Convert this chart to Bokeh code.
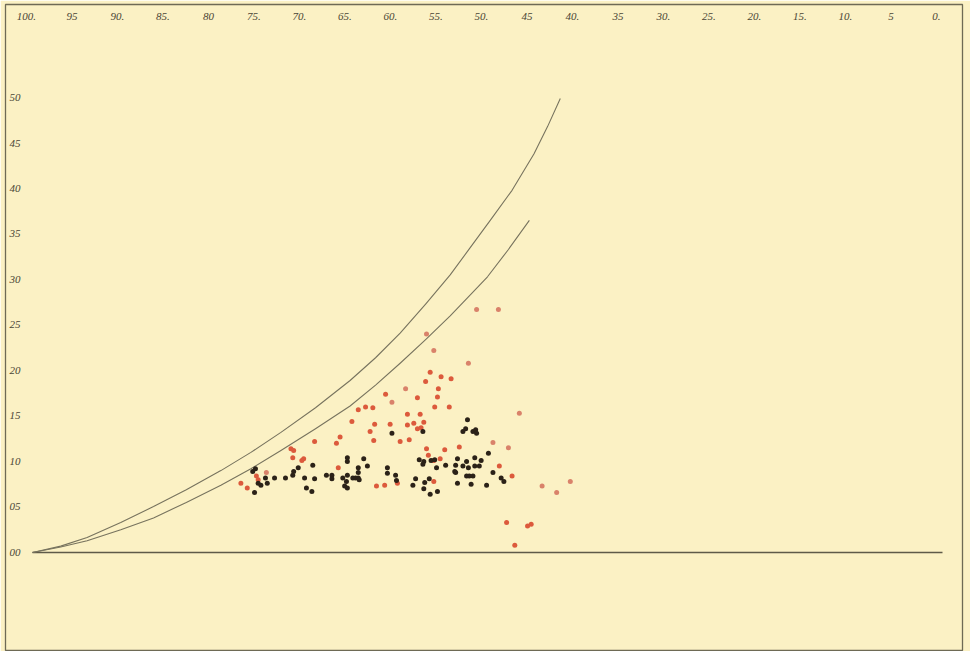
from bokeh.plotting import figure
from bokeh.models import Range1d, ColumnDataSource
from bokeh.core.properties import value
from bokeh.embed import file_html
from bokeh.resources import INLINE

# ---- data ----
x_ticks = [100, 95, 90, 85, 80, 75, 70, 65, 60, 55, 50, 45, 40, 35, 30, 25, 20, 15, 10, 5, 0]
x_tick_labels = ["100.", "95", "90.", "85.", "80", "75.", "70.", "65.", "60.", "55.", "50.",
                 "45", "40.", "35", "30.", "25.", "20.", "15.", "10.", "5", "0."]
y_ticks = [0.50, 0.45, 0.40, 0.35, 0.30, 0.25, 0.20, 0.15, 0.10, 0.05, 0.00]
y_tick_labels = ["50", "45", "40", "35", "30", "25", "20", "15", "10", "05", "00"]

outer_x = [100, 96.9, 94.0, 90.3, 86.7, 83.1, 79.3, 76.0, 72.7, 68.9, 65.1, 62.3, 59.6,
           56.8, 54.1, 51.9, 49.7, 47.3, 44.9, 43.4, 42.0]
outer_y = [0.0, 0.007, 0.0165, 0.033, 0.0505, 0.069, 0.090, 0.110, 0.132, 0.159, 0.189, 0.214, 0.241,
           0.273, 0.305, 0.335, 0.365, 0.398, 0.438, 0.468, 0.499]
inner_x = [100, 96.9, 94.0, 90.3, 86.7, 83.1, 79.3, 76.0, 72.7, 68.9, 65.1, 62.3, 59.6,
           56.8, 54.1, 52.1, 50.0, 47.7, 45.4]
inner_y = [0.0, 0.006, 0.013, 0.025, 0.038, 0.055, 0.074, 0.092, 0.112, 0.136, 0.161, 0.184, 0.208,
           0.234, 0.260, 0.281, 0.303, 0.333, 0.365]

base_x = [100, 0]
base_y = [0.0, 0.0]

red_x = [56.3, 55.1, 54.0, 56.8, 55.4, 61.2, 57.7, 55.5, 64.2, 63.4, 62.6, 55.8, 54.2,
         58.8, 57.4, 64.9, 62.4, 60.7, 58.8, 58.1, 57.7, 57.3, 57.0, 62.9, 66.2, 66.6,
         69.0, 62.5, 59.6, 58.6, 53.1, 71.6, 71.3, 71.4, 70.4, 70.2, 66.4, 56.7, 54.7,
         56.5, 55.2, 55.9, 55.9, 62.2, 61.3, 59.9, 48.7, 47.3, 47.9, 45.6, 45.2, 47.0,
         77.1, 76.4, 75.4, 75.2]
red_y = [0.198, 0.193, 0.191, 0.188, 0.180, 0.174, 0.170, 0.171, 0.157, 0.160, 0.159, 0.160, 0.160,
         0.152, 0.152, 0.144, 0.141, 0.141, 0.140, 0.142, 0.136, 0.137, 0.143, 0.133, 0.127, 0.120,
         0.122, 0.123, 0.122, 0.124, 0.116, 0.114, 0.112, 0.104, 0.101, 0.103, 0.093, 0.114, 0.113,
         0.107, 0.103, 0.101, 0.078, 0.073, 0.074, 0.076, 0.095, 0.084, 0.033, 0.029, 0.031, 0.008,
         0.076, 0.071, 0.084, 0.080]

pale_x = [51.2, 48.8, 56.7, 55.9, 52.1, 59.0, 60.5, 46.5, 49.4, 47.7, 44.0, 42.4, 40.9, 74.3]
pale_y = [0.267, 0.267, 0.240, 0.222, 0.208, 0.180, 0.165, 0.153, 0.121, 0.115, 0.073, 0.066, 0.078, 0.088]

black_x = [52.2, 52.4, 52.7, 51.6, 51.3, 51.2, 57.1, 60.5, 65.4, 65.4, 63.6, 69.2, 70.8, 71.3,
           71.4, 72.2, 73.4, 74.4, 74.2, 75.6, 70.1, 69.0, 69.9, 69.3, 67.7, 67.1, 67.1, 65.9,
           65.4, 65.5, 65.7, 65.4, 64.8, 64.5, 64.2, 64.2, 64.2, 63.2, 64.1, 61.0, 61.0, 60.1,
           60.0, 58.2, 57.9, 56.9, 56.4, 57.0, 56.3, 55.5, 57.5, 57.0, 57.1, 55.6, 56.2, 55.8,
           54.6, 53.3, 53.5, 52.7, 52.3, 52.1, 51.4, 50.9, 51.4, 53.5, 52.3, 52.0, 51.6, 53.3,
           51.8, 50.7, 49.9, 49.4, 48.5, 48.2, 50.1, 53.6, 75.8, 75.5, 75.2, 74.9]
black_y = [0.146, 0.136, 0.133, 0.133, 0.135, 0.131, 0.133, 0.131, 0.104, 0.100, 0.103, 0.096, 0.093, 0.089,
           0.085, 0.082, 0.082, 0.082, 0.076, 0.066, 0.082, 0.081, 0.071, 0.067, 0.085, 0.085, 0.081, 0.082,
           0.085, 0.078, 0.073, 0.071, 0.082, 0.082, 0.082, 0.093, 0.088, 0.095, 0.080, 0.093, 0.087, 0.085,
           0.079, 0.074, 0.081, 0.077, 0.081, 0.070, 0.064, 0.067, 0.102, 0.100, 0.097, 0.093, 0.101, 0.102,
           0.096, 0.103, 0.096, 0.095, 0.100, 0.093, 0.095, 0.095, 0.104, 0.088, 0.084, 0.084, 0.084, 0.076,
           0.075, 0.101, 0.109, 0.088, 0.082, 0.078, 0.074, 0.089, 0.089, 0.092, 0.076, 0.074]

# ---- figure ----
BG = "#fbf1c4"
INK = "#77735e"

p = figure(width=970, height=651, output_backend="svg", toolbar_location=None,
           x_axis_location=None, y_axis_location=None,
           x_range=Range1d(102.967, -2.198), y_range=Range1d(-0.1077, 0.6022),
           min_border_left=5, min_border_top=4, min_border_right=8, min_border_bottom=1)
p.background_fill_color = BG
p.border_fill_color = BG
p.outline_line_color = "#6e6a55"
p.outline_line_width = 1.3
p.xgrid.visible = False
p.ygrid.visible = False

p.line(base_x, base_y, line_color="#5e5a48", line_width=1.4)
p.line(outer_x, outer_y, line_color=INK, line_width=1.1, line_join="round")
p.line(inner_x, inner_y, line_color=INK, line_width=1.1, line_join="round")

p.scatter(pale_x, pale_y, size=5, fill_color="#d9826a", line_color=None)
p.scatter(red_x, red_y, size=5, fill_color="#dc5a3c", line_color=None)
p.scatter(black_x, black_y, size=5, fill_color="#2b2218", line_color=None)

xs = ColumnDataSource(dict(x=x_ticks, y=[0.589] * len(x_ticks), t=x_tick_labels))
p.text("x", "y", text="t", source=xs, text_font=value("Liberation Serif"),
       text_font_style="italic", text_font_size="11px", text_color="#4a4535",
       text_align="center", text_baseline="middle", x_offset=-6)

ys = ColumnDataSource(dict(x=[102.53] * len(y_ticks), y=y_ticks, t=y_tick_labels))
p.text("x", "y", text="t", source=ys, text_font=value("Liberation Serif"),
       text_font_style="italic", text_font_size="11px", text_color="#4a4535",
       text_align="left", text_baseline="middle")

open("out.html", "w").write(file_html(p, INLINE))
